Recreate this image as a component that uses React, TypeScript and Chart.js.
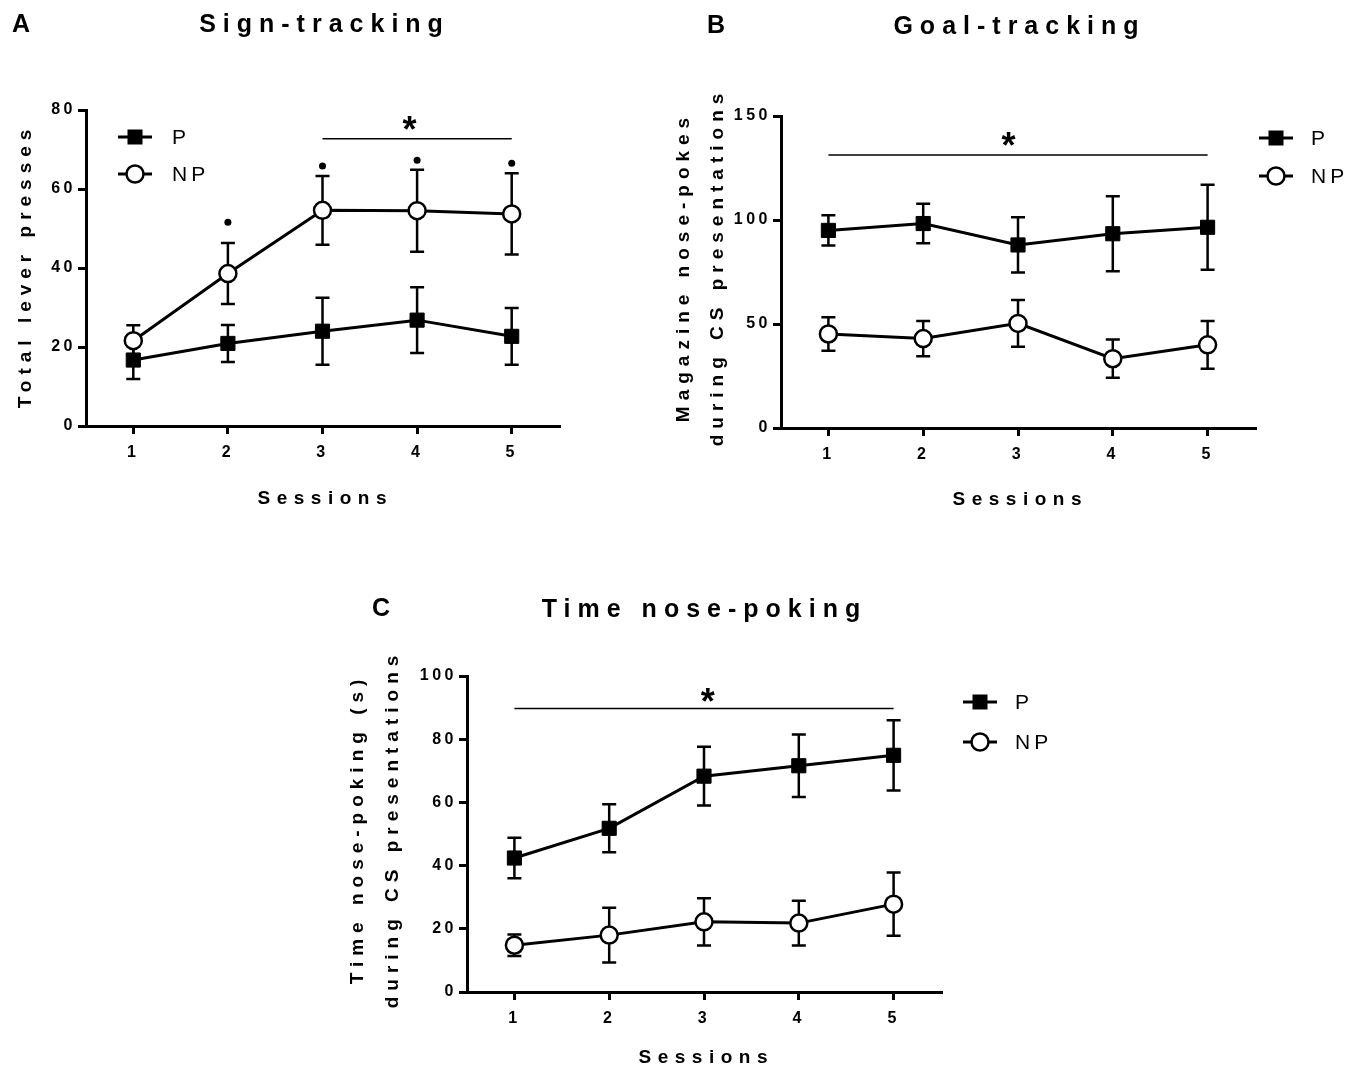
import React, { useEffect, useRef } from "react";
import { Chart, registerables } from "chart.js";

Chart.register(...registerables);

const SESSIONS = [1, 2, 3, 4, 5];

// Panel A – Sign-tracking (total lever presses)
const A_P_MEAN = [16.7, 20.9, 24.0, 26.8, 22.7];
const A_P_SEM = [4.8, 4.7, 8.5, 8.3, 7.2];
const A_NP_MEAN = [21.6, 38.6, 54.6, 54.5, 53.7];
const A_NP_SEM = [3.9, 7.7, 8.7, 10.4, 10.3];
const A_SIG_DOTS: (number | null)[] = [null, 51.6, 65.8, 67.3, 66.5];
const A_Y_TICKS = [0, 20, 40, 60, 80];

// Panel B – Goal-tracking (magazine nose-pokes)
const B_P_MEAN = [95.0, 98.3, 88.0, 93.4, 96.5];
const B_P_SEM = [7.3, 9.5, 13.3, 18.0, 20.4];
const B_NP_MEAN = [45.2, 43.0, 50.3, 33.3, 40.0];
const B_NP_SEM = [8.1, 8.5, 11.2, 9.2, 11.5];
const B_Y_TICKS = [0, 50, 100, 150];

// Panel C – Time nose-poking (s)
const C_P_MEAN = [42.4, 51.8, 68.3, 71.6, 74.9];
const C_P_SEM = [6.4, 7.6, 9.3, 9.9, 11.1];
const C_NP_MEAN = [14.8, 18.0, 22.2, 21.8, 27.8];
const C_NP_SEM = [3.4, 8.7, 7.5, 7.1, 10.0];
const C_Y_TICKS = [0, 20, 40, 60, 80, 100];

const SERIES_LABELS = ["P", "NP"];

const FAMILY = '"Liberation Sans", Arial, sans-serif';
const YW = 50;
const XH = 40;

type Rect = { x: number; y: number; w: number; h: number };
type Spec = {
  key: string;
  canvas: Rect;
  area: { l: number; t: number; r: number; b: number };
  yMax: number;
  yTicks: number[];
  p: number[];
  pErr: number[];
  np: number[];
  npErr: number[];
  dots?: (number | null)[];
  sig: { x1: number; x2: number; y: number };
  star: { x: number; y: number };
  letter: { text: string; x: number; y: number };
  title: { text: string; x: number; y: number };
  yTitle: { lines: string[]; xs: number[]; y: number };
  xTitle: { text: string; x: number; y: number };
  legend: { cx: number; yP: number; yNP: number; textX: number };
};

const SPECS: Spec[] = [
  {
    key: "A",
    canvas: { x: 0, y: 0, w: 655, h: 540 },
    area: { l: 86, t: 110, r: 559, b: 426 },
    yMax: 80,
    yTicks: A_Y_TICKS,
    p: A_P_MEAN,
    pErr: A_P_SEM,
    np: A_NP_MEAN,
    npErr: A_NP_SEM,
    dots: A_SIG_DOTS,
    sig: { x1: 3, x2: 5, y: 72.7 },
    star: { x: 3.92, y: 77 },
    letter: { text: "A", x: 21, y: 25 },
    title: { text: "Sign-tracking", x: 321, y: 25 },
    yTitle: { lines: ["Total lever presses"], xs: [26], y: 269 },
    xTitle: { text: "Sessions", x: 322, y: 499 },
    legend: { cx: 135, yP: 137, yNP: 174, textX: 172 },
  },
  {
    key: "B",
    canvas: { x: 655, y: 0, w: 704, h: 540 },
    area: { l: 781, t: 116, r: 1255, b: 428 },
    yMax: 150,
    yTicks: B_Y_TICKS,
    p: B_P_MEAN,
    pErr: B_P_SEM,
    np: B_NP_MEAN,
    npErr: B_NP_SEM,
    sig: { x1: 1, x2: 5, y: 131.3 },
    star: { x: 2.9, y: 139.3 },
    letter: { text: "B", x: 716, y: 26 },
    title: { text: "Goal-tracking", x: 1016, y: 27 },
    yTitle: {
      lines: ["Magazine nose-pokes", "during CS presentations"],
      xs: [684, 718],
      y: 270,
    },
    xTitle: { text: "Sessions", x: 1017, y: 500 },
    legend: { cx: 1276, yP: 138, yNP: 176, textX: 1311 },
  },
  {
    key: "C",
    canvas: { x: 300, y: 560, w: 800, h: 509 },
    area: { l: 467, t: 676, r: 941, b: 992 },
    yMax: 100,
    yTicks: C_Y_TICKS,
    p: C_P_MEAN,
    pErr: C_P_SEM,
    np: C_NP_MEAN,
    npErr: C_NP_SEM,
    sig: { x1: 1, x2: 5, y: 89.7 },
    star: { x: 3.04, y: 94.3 },
    letter: { text: "C", x: 381, y: 609 },
    title: { text: "Time nose-poking", x: 701, y: 610 },
    yTitle: {
      lines: ["Time nose-poking (s)", "during CS presentations"],
      xs: [358, 393],
      y: 832,
    },
    xTitle: { text: "Sessions", x: 703, y: 1058 },
    legend: { cx: 980, yP: 702, yNP: 742, textX: 1015 },
  },
];

function drawText(
  ctx: CanvasRenderingContext2D,
  s: string,
  x: number,
  y: number,
  font: string,
  spacing: number,
  align: CanvasTextAlign = "center",
  rot = 0,
  baseline: CanvasTextBaseline = "middle"
) {
  ctx.save();
  ctx.font = font;
  ctx.fillStyle = "#000";
  (ctx as any).letterSpacing = spacing + "px";
  ctx.textAlign = align;
  ctx.textBaseline = baseline;
  ctx.translate(x, y);
  ctx.rotate(rot);
  const dx = align === "center" ? spacing / 2 : 0;
  ctx.fillText(s, dx, 0);
  ctx.restore();
}

function makeOverlay(spec: Spec) {
  const ox = spec.canvas.x;
  const oy = spec.canvas.y;
  return {
    id: "overlay" + spec.key,
    beforeDraw(chart: any) {
      chart.ctx.letterSpacing = "3.5px";
    },
    beforeDatasetsDraw(chart: any) {
      const ctx: CanvasRenderingContext2D = chart.ctx;
      const xs = chart.scales.x;
      const ys = chart.scales.y;
      ctx.save();
      ctx.strokeStyle = "#000";
      ctx.lineWidth = 2.5;
      const series: [number[], number[]][] = [
        [spec.p, spec.pErr],
        [spec.np, spec.npErr],
      ];
      for (const [m, e] of series) {
        SESSIONS.forEach((s, i) => {
          const px = xs.getPixelForValue(s);
          const t = ys.getPixelForValue(m[i] + e[i]);
          const b = ys.getPixelForValue(m[i] - e[i]);
          ctx.beginPath();
          ctx.moveTo(px, t);
          ctx.lineTo(px, b);
          ctx.moveTo(px - 7, t);
          ctx.lineTo(px + 7, t);
          ctx.moveTo(px - 7, b);
          ctx.lineTo(px + 7, b);
          ctx.stroke();
        });
      }
      ctx.restore();
    },
    afterDraw(chart: any) {
      const ctx: CanvasRenderingContext2D = chart.ctx;
      (ctx as any).letterSpacing = "0px";
      const xs = chart.scales.x;
      const ys = chart.scales.y;

      // significance line and asterisk
      ctx.save();
      ctx.strokeStyle = "#000";
      ctx.lineWidth = 1.5;
      const sy = ys.getPixelForValue(spec.sig.y);
      ctx.beginPath();
      ctx.moveTo(xs.getPixelForValue(spec.sig.x1), sy);
      ctx.lineTo(xs.getPixelForValue(spec.sig.x2), sy);
      ctx.stroke();
      ctx.restore();
      drawText(
        ctx,
        "*",
        xs.getPixelForValue(spec.star.x),
        ys.getPixelForValue(spec.star.y) + 20,
        `bold 36px ${FAMILY}`,
        0,
        "center",
        0,
        "alphabetic"
      );

      // panel letter and title
      drawText(ctx, spec.letter.text, spec.letter.x - ox, spec.letter.y - oy, `bold 25px ${FAMILY}`, 0);
      drawText(ctx, spec.title.text, spec.title.x - ox, spec.title.y - oy, `bold 25px ${FAMILY}`, 7);

      // axis titles
      spec.yTitle.lines.forEach((line, i) => {
        drawText(ctx, line, spec.yTitle.xs[i] - ox, spec.yTitle.y - oy, `bold 19px ${FAMILY}`, 6, "center", -Math.PI / 2);
      });
      drawText(ctx, spec.xTitle.text, spec.xTitle.x - ox, spec.xTitle.y - oy, `bold 19px ${FAMILY}`, 6.5);

      // legend
      const lg = spec.legend;
      const cx = lg.cx - ox;
      [lg.yP, lg.yNP].forEach((yy, k) => {
        const y = yy - oy;
        ctx.save();
        ctx.strokeStyle = "#000";
        ctx.lineWidth = 3;
        ctx.beginPath();
        ctx.moveTo(cx - 17, y);
        ctx.lineTo(cx + 17, y);
        ctx.stroke();
        if (k === 0) {
          ctx.fillStyle = "#000";
          ctx.fillRect(cx - 7.5, y - 7.5, 15, 15);
        } else {
          ctx.fillStyle = "#fff";
          ctx.lineWidth = 2.5;
          ctx.beginPath();
          ctx.arc(cx, y, 8.5, 0, Math.PI * 2);
          ctx.fill();
          ctx.stroke();
        }
        ctx.restore();
        drawText(ctx, SERIES_LABELS[k], lg.textX - ox, y + 1, `21px ${FAMILY}`, 4, "left");
      });
    },
  };
}

function Panel({ spec }: { spec: Spec }) {
  const ref = useRef<HTMLCanvasElement | null>(null);
  useEffect(() => {
    if (!ref.current) return;
    const c = spec.canvas;
    const a = spec.area;
    const padding = {
      left: a.l - c.x - YW,
      top: a.t - c.y,
      right: c.x + c.w - a.r,
      bottom: c.y + c.h - a.b - XH,
    };
    const pts = (arr: (number | null)[]) =>
      SESSIONS.map((s, i) => ({ x: s, y: arr[i] })).filter((d) => d.y !== null);
    const datasets: any[] = [
      {
        label: SERIES_LABELS[1],
        data: pts(spec.np),
        borderColor: "#000",
        borderWidth: 3,
        backgroundColor: "#fff",
        pointStyle: "circle",
        pointRadius: 8.5,
        pointBorderWidth: 2.5,
        pointBackgroundColor: "#fff",
        pointBorderColor: "#000",
        tension: 0,
      },
      {
        label: SERIES_LABELS[0],
        data: pts(spec.p),
        borderColor: "#000",
        borderWidth: 3,
        backgroundColor: "#000",
        pointStyle: "rect",
        pointRadius: 10,
        pointBorderWidth: 1,
        pointBackgroundColor: "#000",
        pointBorderColor: "#000",
        tension: 0,
      },
    ];
    if (spec.dots) {
      datasets.unshift({
        label: "sig",
        data: pts(spec.dots),
        showLine: false,
        pointStyle: "circle",
        pointRadius: 3.5,
        pointBackgroundColor: "#000",
        pointBorderColor: "#000",
        pointBorderWidth: 0,
      });
    }
    const axisCommon = {
      grid: {
        drawOnChartArea: false,
        drawTicks: true,
        tickLength: 8,
        lineWidth: 3,
        color: "#000",
      },
      border: { display: true, width: 3, color: "#000" },
    };
    const chart = new Chart(ref.current, {
      type: "line",
      data: { datasets },
      options: {
        responsive: false,
        animation: false,
        events: [],
        layout: { padding },
        plugins: {
          legend: { display: false },
          tooltip: { enabled: false },
          title: { display: false },
        },
        scales: {
          x: {
            type: "linear",
            min: 0.5,
            max: 5.5,
            ...axisCommon,
            afterBuildTicks: (s: any) => {
              s.ticks = SESSIONS.map((v) => ({ value: v }));
            },
            afterFit: (s: any) => {
              s.height = XH;
            },
            ticks: {
              color: "#000",
              font: { family: FAMILY, size: 16, weight: "bold" },
              padding: 9,
              maxRotation: 0,
              autoSkip: false,
            },
          },
          y: {
            type: "linear",
            min: 0,
            max: spec.yMax,
            ...axisCommon,
            afterBuildTicks: (s: any) => {
              s.ticks = spec.yTicks.map((v) => ({ value: v }));
            },
            afterFit: (s: any) => {
              s.width = YW;
            },
            ticks: {
              color: "#000",
              font: { family: FAMILY, size: 16, weight: "bold" },
              padding: 2,
              autoSkip: false,
            },
          },
        },
      } as any,
      plugins: [makeOverlay(spec)],
    });
    return () => chart.destroy();
  }, [spec]);
  const c = spec.canvas;
  return (
    <canvas
      ref={ref}
      width={c.w}
      height={c.h}
      style={{ position: "absolute", left: c.x, top: c.y, width: c.w, height: c.h }}
    />
  );
}

export default function App() {
  return (
    <div
      style={{
        position: "absolute",
        left: 0,
        top: 0,
        width: 1359,
        height: 1069,
        background: "#fff",
        overflow: "hidden",
      }}
    >
      {SPECS.map((s) => (
        <Panel key={s.key} spec={s} />
      ))}
    </div>
  );
}
